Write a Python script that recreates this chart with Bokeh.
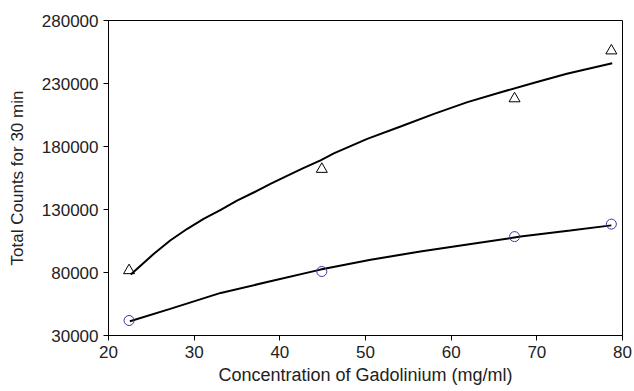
from bokeh.plotting import figure
from bokeh.models import FixedTicker, Range1d, BasicTickFormatter
from bokeh.embed import file_html
from bokeh.resources import INLINE

# Measured data points
conc = [22.4, 44.9, 67.4, 78.7]
counts_triangle = [81600, 162000, 218000, 256000]
counts_circle = [41900, 80800, 108500, 118400]

# Fitted trend lines
fit_upper_x = [22.6, 25.3, 27.2, 29.2, 31.1, 33.1, 35.0, 37.0, 38.9, 40.9, 42.8,
               44.75, 46.3, 50.2, 54.1, 58.0, 61.9, 65.8, 69.7, 73.5, 78.8]
fit_upper_y = [78500, 94900, 105400, 114700, 122600, 129700, 137100, 143700, 150300,
               156900, 163000, 169000, 174500, 186100, 195900, 205900, 215200, 223100,
               230600, 237800, 246100]
fit_lower_x = [22.5, 27.2, 33.1, 38.9, 44.75, 50.6, 56.4, 62.3, 68.1, 73.9, 78.7]
fit_lower_y = [41300, 51100, 63800, 73000, 82300, 90200, 96600, 102700, 108500, 113300, 117400]

x_ticks = [20, 30, 40, 50, 60, 70, 80]
y_ticks = [30000, 80000, 130000, 180000, 230000, 280000]

p = figure(width=634, height=391, output_backend="svg", toolbar_location=None,
           x_range=Range1d(20, 80), y_range=Range1d(30000, 280000),
           min_border_left=108, min_border_right=12, min_border_top=20, min_border_bottom=56)
p.xgrid.visible = False
p.ygrid.visible = False
p.outline_line_color = "black"
p.outline_line_width = 1
p.background_fill_color = "white"
p.border_fill_color = "white"

p.line(fit_upper_x, fit_upper_y, line_color="black", line_width=2)
p.line(fit_lower_x, fit_lower_y, line_color="black", line_width=2)
p.scatter(conc, counts_triangle, marker="triangle", size=11, fill_color=None,
          line_color="black", line_width=1)
p.scatter(conc, counts_circle, marker="circle", size=10, fill_color=None,
          line_color="#3a3aa0", line_width=1)

for ax in (p.xaxis[0], p.yaxis[0]):
    ax.axis_line_color = "black"
    ax.major_tick_line_color = "black"
    ax.major_tick_out = 5
    ax.major_tick_in = 0
    ax.minor_tick_line_color = None
    ax.major_label_text_font = "Liberation Sans"
    ax.major_label_text_font_size = "17px"
    ax.major_label_text_color = "#222222"
    ax.axis_label_text_font = "Liberation Sans"
    ax.axis_label_text_font_style = "normal"
    ax.axis_label_text_color = "#222222"

p.xaxis[0].axis_label_text_font_size = "18px"
p.yaxis[0].axis_label_text_font_size = "17px"
p.xaxis[0].ticker = FixedTicker(ticks=x_ticks)
p.yaxis[0].ticker = FixedTicker(ticks=y_ticks)
p.yaxis[0].formatter = BasicTickFormatter(use_scientific=False)
p.xaxis[0].axis_label = "Concentration of Gadolinium (mg/ml)"
p.yaxis[0].axis_label = "Total Counts for 30 min"
p.xaxis[0].major_label_standoff = 5
p.yaxis[0].major_label_standoff = 5
p.xaxis[0].axis_label_standoff = 4
p.yaxis[0].axis_label_standoff = 12

open("out.html", "w").write(file_html(p, INLINE))
